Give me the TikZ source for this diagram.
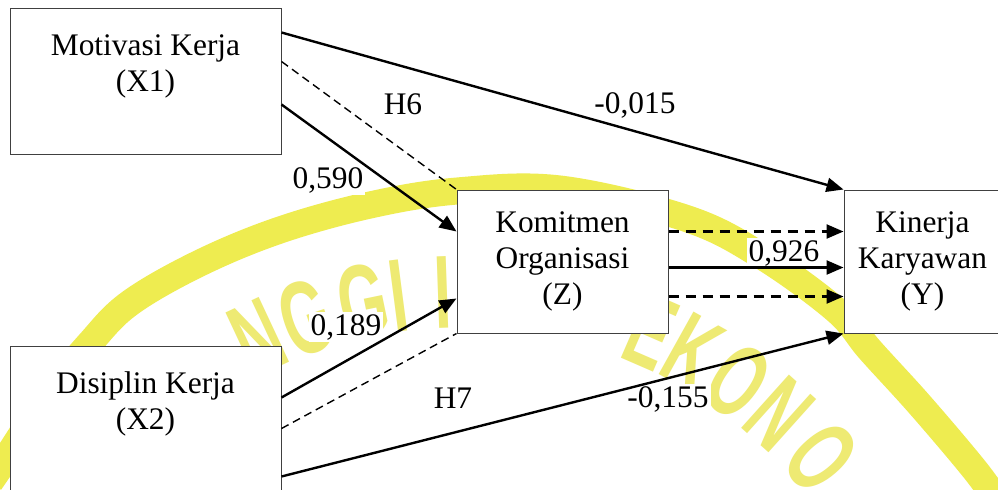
\documentclass[tikz,border=0pt]{standalone}
\usepackage{fontspec}
\setmainfont{Liberation Serif}
\newfontfamily\wmfont[FakeStretch=0.6]{Liberation Sans}
\usetikzlibrary{arrows.meta,positioning}
\definecolor{wmkuning}{RGB}{238,236,80}
\definecolor{wmhuruf}{RGB}{238,234,115}

\begin{document}
\begin{tikzpicture}[
   x=0.5pt, y=-0.5pt,
   blok/.style={draw=black!75, line width=0.5pt, fill=white, align=center,
                inner sep=0pt, font=\fontsize{15.7}{18}\selectfont},
   lbl/.style={fill=white, inner sep=1pt, font=\fontsize{15.7}{18}\selectfont},
   panah/.style={-{Triangle[length=8.5pt,width=7pt]}, line width=1.2pt},
   putus/.style={panah, dash pattern=on 5pt off 3.5pt},
   garis/.style={line width=0.7pt, dash pattern=on 4pt off 2.5pt},
   wm/.style={text=wmhuruf, inner sep=0pt,
              font=\wmfont\bfseries\fontsize{52}{52}\selectfont}]
  \useasboundingbox (0,0) rectangle (998,489);
  \clip (0,0) rectangle (998,489);
  \fill[white] (0,0) rectangle (998,489);
  % watermark di belakang
  \draw[wmkuning, line width=13.5pt] plot[smooth, tension=0.6] coordinates {
    (-10,482) (5,460) (50,392) (90,343) (130,303) (200,263) (280,230)
    (370,205) (457,191) (560,189) (685,218) (760,255) (836,310) (870,350)
    (920,405) (975,470) (1000,505)};
  \coordinate (wmc) at (460,770);
  \foreach \h/\a [count=\i] in {N/115.1, G/108.8, G/101.7, I/97.4, I/92.0,
                                E/66.5, K/60.9, O/54.4, N/48.1, O/40.9}
    \node[wm, rotate=\a-90] (wm\i) at ([shift={(-\a:478)}]wmc) {\h};
  % variabel
  \node[blok, minimum width=135.5pt, minimum height=73pt] (x1) at (145.5,81)
       {Motivasi Kerja\\(X1)\\\mbox{}};
  \node[blok, minimum width=135.5pt, minimum height=73pt, below=95.5pt of x1] (x2)
       {Disiplin Kerja\\(X2)\\\mbox{}};
  \node[blok, minimum width=105.5pt, minimum height=71.5pt] (z) at (562.5,261.5)
       {Komitmen\\Organisasi\\(Z)};
  \node[blok, minimum width=78.5pt, minimum height=71.5pt, right=87.5pt of z] (y)
       {Kinerja\\Karyawan\\(Y)};
  % koefisien
  \node[lbl] (b015) at (635,105) {-0,015};
  \node[lbl] (h6) at (403,104) {H6};
  \node[lbl] (b590) at (328,180) {0,590};
  \node[lbl] (b189) at (346,327) {0,189};
  \node[lbl] (h7) at (453,398) {H7};
  \node[lbl] (b155) at (668,399) {-0,155};
  \node[lbl] (b926) at (784,253) {0,926};
  % jalur
  \draw[panah] ([yshift=-12.5pt]x1.north east) -- (y.north west);
  \draw[garis] ([yshift=-27pt]x1.north east) -- (z.north west);
  \draw[panah] ([yshift=-48.5pt]x1.north east) -- ([yshift=-21pt]z.north west);
  \draw[panah] ([yshift=-26pt]x2.north east) -- ([yshift=17.5pt]z.south west);
  \draw[garis] ([yshift=-41.5pt]x2.north east) -- (z.south west);
  \draw[panah] ([yshift=-65.5pt]x2.north east) -- (y.south west);
  \foreach \s/\st in {-21pt/putus, -39pt/panah, -53.5pt/putus}
    {\draw[\st] ([yshift=\s]z.north east) -- ([yshift=\s]y.north west);}
\end{tikzpicture}
\end{document}
